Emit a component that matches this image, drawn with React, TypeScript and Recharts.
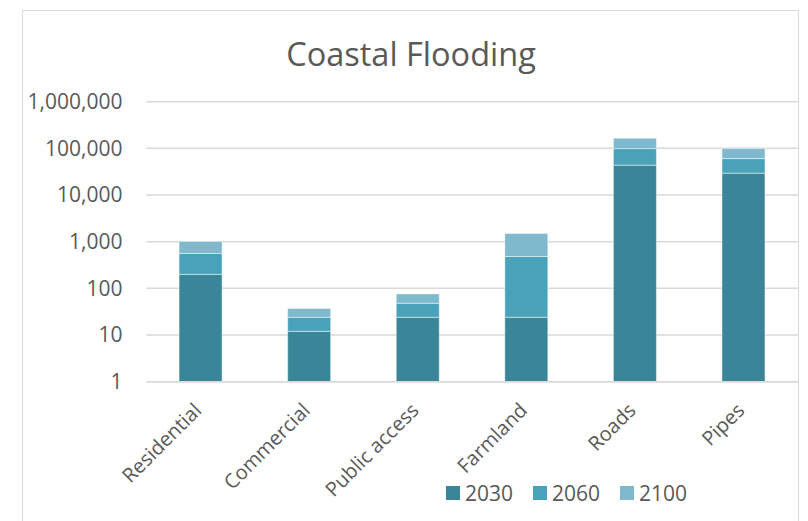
import React from 'react';
import { BarChart, Bar, XAxis, YAxis, CartesianGrid, Legend } from 'recharts';

// Assets exposed to coastal flooding, by planning horizon (stacked increments)
const categories = ['Residential', 'Commercial', 'Public access', 'Farmland', 'Roads', 'Pipes'];
const flood2030 = [200, 12, 24, 24, 43700, 29400];
const flood2060 = [360, 12, 24, 458, 55000, 31000];
const flood2100 = [450, 13, 28, 1020, 66000, 38500];

const seriesNames = ['2030', '2060', '2100'];
const seriesColors = ['#3a8597', '#48a3ba', '#7eb9ce'];
const yTicks = [1, 10, 100, 1000, 10000, 100000, 1000000];

const data = categories.map((name, i) => ({
  name,
  [seriesNames[0]]: flood2030[i],
  [seriesNames[1]]: flood2060[i],
  [seriesNames[2]]: flood2100[i],
}));

const FONT = '"Open Sans", "Noto Sans", sans-serif';
const TEXT = '#595959';
const GRID = '#d9d9d9';

const CategoryTick = (props: any) => {
  const { x, y, payload } = props;
  const ax = x + 2;
  const ay = y + 30;
  return (
    <text
      x={ax}
      y={ay}
      transform={`rotate(-45 ${ax} ${ay})`}
      textAnchor="end"
      fill={TEXT}
      fontSize={20}
      fontFamily={FONT}
    >
      {payload.value}
    </text>
  );
};

const LegendContent = (props: any) => {
  const { payload = [] } = props;
  return (
    <div
      style={{
        display: 'flex',
        alignItems: 'center',
        fontFamily: FONT,
        fontSize: 21,
        lineHeight: '28px',
        color: TEXT,
      }}
    >
      {payload.map((item: any) => (
        <div key={item.value} style={{ display: 'flex', alignItems: 'center', marginRight: 20 }}>
          <span
            style={{ display: 'inline-block', width: 14, height: 14, background: item.color, marginRight: 5 }}
          />
          <span>{item.value}</span>
        </div>
      ))}
    </div>
  );
};

export default function App() {
  return (
    <div
      style={{
        position: 'absolute',
        left: 0,
        top: 0,
        width: 808,
        height: 521,
        background: '#fff',
        overflow: 'hidden',
      }}
    >
      <div
        style={{
          position: 'absolute',
          left: 22,
          top: 10,
          width: 775,
          height: 520,
          border: `1.5px solid ${GRID}`,
          borderBottom: 'none',
        }}
      />
      <div
        style={{
          position: 'absolute',
          left: 0,
          width: 822,
          top: 34,
          textAlign: 'center',
          fontFamily: FONT,
          fontSize: 32.5,
          color: TEXT,
          lineHeight: '40px',
        }}
      >
        Coastal Flooding
      </div>
      <div style={{ position: 'absolute', left: 0, top: 0 }}>
        <BarChart
          width={808}
          height={521}
          data={data}
          margin={{ top: 101.7, right: 10, bottom: 109.3, left: 0 }}
          barCategoryGap="30%"
        >
          <CartesianGrid vertical={false} stroke={GRID} strokeWidth={1.5} />
          <XAxis
            dataKey="name"
            height={30}
            interval={0}
            tickLine={false}
            tickSize={0}
            tickMargin={0}
            axisLine={{ stroke: GRID, strokeWidth: 1.5 }}
            tick={<CategoryTick />}
          />
          <YAxis
            type="number"
            scale="log"
            domain={[1, 1000000]}
            ticks={yTicks}
            allowDataOverflow
            width={146.5}
            axisLine={false}
            tickLine={false}
            tickSize={0}
            tickMargin={24}
            interval={0}
            tick={{ fill: TEXT, fontSize: 21, fontFamily: FONT }}
            tickFormatter={(v: number) => v.toLocaleString('en-US')}
          />
          <Legend
            verticalAlign="middle"
            layout="horizontal"
            wrapperStyle={{ left: 446, top: 479, width: 320 }}
            content={<LegendContent />}
          />
          {seriesNames.map((s, i) => (
            <Bar
              key={s}
              dataKey={s}
              name={s}
              stackId="flood"
              fill={seriesColors[i]}
              stroke="#ffffff"
              strokeOpacity={0.45}
              strokeWidth={1}
              isAnimationActive={false}
            />
          ))}
        </BarChart>
      </div>
    </div>
  );
}
